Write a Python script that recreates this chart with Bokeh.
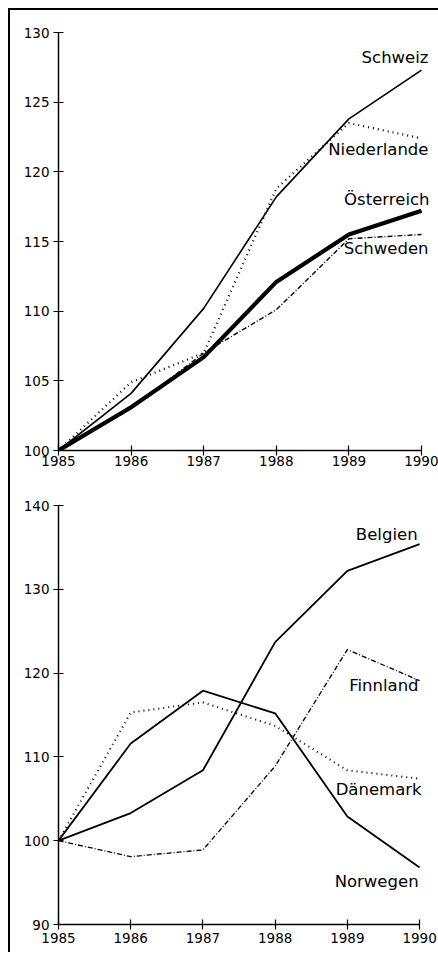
from bokeh.plotting import figure
from bokeh.layouts import column
from bokeh.models import Range1d, FixedTicker
from bokeh.core.properties import value
from bokeh.embed import file_html
from bokeh.resources import INLINE

years = [1985, 1986, 1987, 1988, 1989, 1990]

# top panel
schweiz = [100, 104.1, 110.2, 118.2, 123.8, 127.3]
niederlande = [100, 104.9, 107.0, 118.8, 123.5, 122.4]
oesterreich = [100, 103.1, 106.7, 112.1, 115.5, 117.2]
schweden = [100, 103.0, 107.0, 110.1, 115.2, 115.5]

# bottom panel
belgien = [100, 103.3, 108.4, 123.7, 132.2, 135.4]
norwegen = [100, 111.6, 117.9, 115.2, 102.9, 96.8]
daenemark = [100, 115.3, 116.5, 113.7, 108.4, 107.4]
finnland = [100, 98.1, 98.9, 108.9, 122.8, 119.1]

top_ticks = [100, 105, 110, 115, 120, 125, 130]
bottom_ticks = [90, 100, 110, 120, 130, 140]

FONT = "DejaVu Sans"


def make_fig(height, xr_end, yr, yticks, bl, br, bt, bb, standoff):
    p = figure(width=428, height=height, output_backend="svg", toolbar_location=None,
               x_range=Range1d(1985, xr_end), y_range=Range1d(*yr),
               min_border_left=bl, min_border_right=br, min_border_top=bt, min_border_bottom=bb)
    p.outline_line_color = None
    p.xgrid.grid_line_color = None
    p.ygrid.grid_line_color = None
    p.background_fill_color = None
    p.border_fill_color = None
    for ax in (p.xaxis[0], p.yaxis[0]):
        ax.axis_line_width = 1.5
        ax.axis_line_color = "black"
        ax.major_tick_line_color = "black"
        ax.major_tick_line_width = 1.2
        ax.major_tick_in = 5
        ax.major_tick_out = 5
        ax.minor_tick_line_color = None
        ax.major_label_text_font = FONT
        ax.major_label_text_font_size = "13.5px"
        ax.major_label_text_color = "black"
    p.xaxis[0].ticker = FixedTicker(ticks=years)
    p.xaxis[0].bounds = (years[0], years[-1])
    p.xaxis[0].major_label_standoff = standoff
    p.yaxis[0].ticker = FixedTicker(ticks=yticks)
    p.yaxis[0].major_label_standoff = 4
    return p


p1 = make_fig(465, 1990.124, (100, 130), top_ticks, 48, 8, 22, 25, 0)
p1.line(years, schweiz, line_color="black", line_width=1.6)
p1.line(years, niederlande, line_color="black", line_width=2.2, line_dash="1 4")
p1.line(years, schweden, line_color="black", line_width=1.4, line_dash="5 2 1 2")
p1.line(years, oesterreich, line_color="black", line_width=4.2)
p1.text(x=[1990] * 4,
        y=[schweiz[-1], niederlande[-1], oesterreich[-1], schweden[-1]],
        text=["Schweiz", "Niederlande", "Österreich", "Schweden"],
        x_offset=[7, 7, 8, 7], y_offset=[-13, 11, -11, 14],
        text_align="right", text_baseline="middle",
        text_font=value(FONT), text_font_size="16.5px", text_color="black")

p2 = make_fig(477, 1990.151, (90, 140), bottom_ticks, 45, 8, 30, 28, 3)
p2.line(years, belgien, line_color="black", line_width=1.8)
p2.line(years, norwegen, line_color="black", line_width=1.8)
p2.line(years, daenemark, line_color="black", line_width=2.0, line_dash="1 4")
p2.line(years, finnland, line_color="black", line_width=1.3, line_dash="5 2 1 2")
p2.text(x=[1990] * 4,
        y=[belgien[-1], finnland[-1], daenemark[-1], norwegen[-1]],
        text=["Belgien", "Finnland", "Dänemark", "Norwegen"],
        x_offset=[-2, -1, 2, -1], y_offset=[-10, 5, 11, 14],
        text_align="right", text_baseline="middle",
        text_font=value(FONT), text_font_size="16.5px", text_color="black")

layout = column(p1, p2, spacing=0, margin=(8, 0, 0, 8),
                styles={"border-left": "2px solid black", "border-top": "2px solid black"})

open("out.html", "w").write(file_html(layout, INLINE))
